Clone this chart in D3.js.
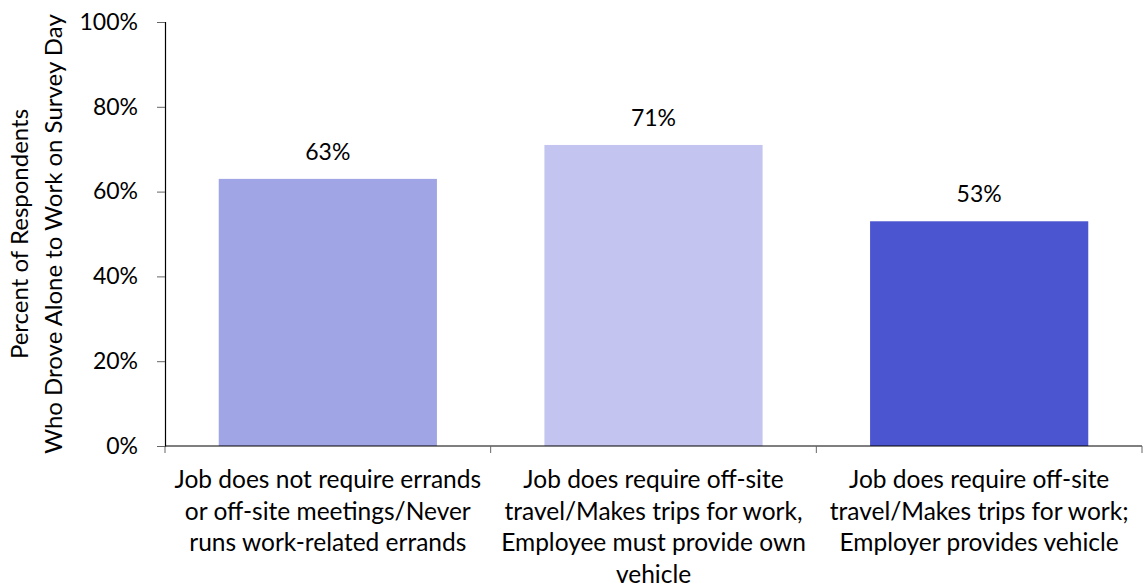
<!DOCTYPE html>
<html>
<head>
<meta charset="utf-8">
<script src="https://cdn.jsdelivr.net/npm/d3@7"></script>
<style>
  html, body { margin: 0; padding: 0; background: #ffffff; }
  svg { display: block; }
  text { font-family: Lato, "Open Sans", sans-serif; fill: #000; }
</style>
</head>
<body>
<svg id="chart" width="1147" height="588"></svg>
<script>
// Share of respondents who drove alone, by work-travel requirement
const categories = [
  "Job does not require errands or off-site meetings/Never runs work-related errands",
  "Job does require off-site travel/Makes trips for work, Employee must provide own vehicle",
  "Job does require off-site travel/Makes trips for work; Employer provides vehicle"
];
const categoryLines = [
  ["Job does not require errands", "or off-site meetings/Never", "runs work-related errands"],
  ["Job does require off-site", "travel/Makes trips for work,", "Employee must provide own", "vehicle"],
  ["Job does require off-site", "travel/Makes trips for work;", "Employer provides vehicle"]
];
const droveAlonePct = [63, 71, 53];
const barColors = ["#A0A5E6", "#C3C5F0", "#4B55CF"];
const yTicks = [0, 20, 40, 60, 80, 100];
const yTitleLines = ["Percent of Respondents", "Who Drove Alone to Work on Survey Day"];

const svg = d3.select("#chart");
const catFont = 24.5, tickFont = 23, valueFont = 23, titleFont = 24;

const plot = { left: 165, right: 1142, top: 22, bottom: 446 };

const x = d3.scaleBand()
  .domain(categories)
  .range([plot.left, plot.right])
  .paddingInner(0.33)
  .paddingOuter(0.165);

const y = d3.scaleLinear()
  .domain([0, 100])
  .range([plot.bottom, plot.top]);

// Bars
svg.append("g")
  .selectAll("rect")
  .data(categories)
  .join("rect")
  .attr("x", d => x(d))
  .attr("y", (d, i) => y(droveAlonePct[i]))
  .attr("width", x.bandwidth())
  .attr("height", (d, i) => y(0) - y(droveAlonePct[i]))
  .attr("fill", (d, i) => barColors[i]);

// Value labels
svg.append("g")
  .selectAll("text")
  .data(categories)
  .join("text")
  .attr("x", d => x(d) + x.bandwidth() / 2)
  .attr("y", (d, i) => y(droveAlonePct[i]) - 19)
  .attr("text-anchor", "middle")
  .style("font-size", valueFont + "px")
  .text((d, i) => droveAlonePct[i] + "%");

// Y axis
const yAxis = svg.append("g")
  .attr("transform", `translate(${plot.left},0)`)
  .call(d3.axisLeft(y)
    .tickValues(yTicks)
    .tickFormat(d => d + "%")
    .tickSize(8)
    .tickPadding(19));
yAxis.select(".domain").attr("stroke", "#000").attr("stroke-width", 1.2);
yAxis.selectAll(".tick line").attr("stroke", "#666");
yAxis.selectAll(".tick text")
  .style("font-size", tickFont + "px")
  .style("font-family", "Lato, 'Open Sans', sans-serif")
  .attr("fill", "#000");

// X axis baseline and category boundary ticks
const gap = x.step() * x.paddingInner() / 2;
const boundaries = categories.map(c => x(c) - gap).concat([x(categories[categories.length - 1]) + x.bandwidth() + gap]);
svg.append("line")
  .attr("x1", plot.left).attr("x2", plot.right)
  .attr("y1", y(0)).attr("y2", y(0))
  .attr("stroke", "#000").attr("stroke-width", 1.2);
svg.append("g")
  .selectAll("line")
  .data(boundaries)
  .join("line")
  .attr("x1", d => d).attr("x2", d => d)
  .attr("y1", y(0)).attr("y2", y(0) + 7)
  .attr("stroke", "#666");

// Category labels
const catGroup = svg.append("g");
categories.forEach((c, i) => {
  const t = catGroup.append("text")
    .attr("text-anchor", "middle")
    .style("font-size", catFont + "px");
  categoryLines[i].forEach((line, j) => {
    t.append("tspan")
      .attr("x", x(c) + x.bandwidth() / 2)
      .attr("y", 488 + j * 31.5)
      .text(line);
  });
});

// Y axis title
const titleG = svg.append("g")
  .attr("transform", `translate(0,${(plot.top + plot.bottom) / 2}) rotate(-90)`);
yTitleLines.forEach((line, j) => {
  titleG.append("text")
    .attr("x", 0)
    .attr("y", 27.7 + j * 34)
    .attr("text-anchor", "middle")
    .style("font-size", titleFont + "px")
    .text(line);
});
</script>
</body>
</html>
